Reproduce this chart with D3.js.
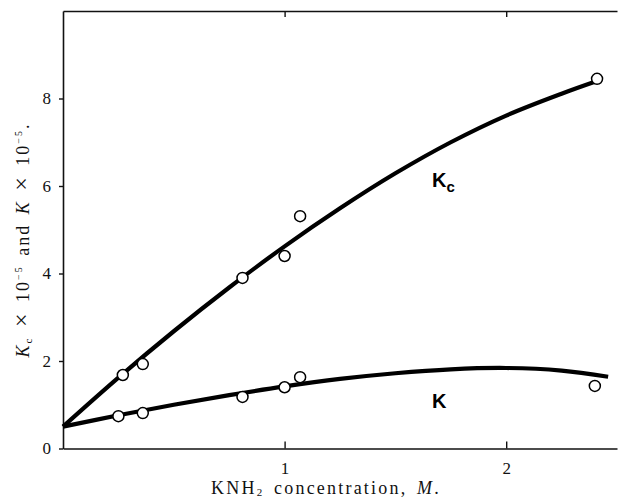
<!DOCTYPE html>
<html>
<head>
<meta charset="utf-8">
<script src="https://cdn.jsdelivr.net/npm/d3@7"></script>
<style>
  body { margin: 0; background: #fff; }
  svg { display: block; }
  .tick text { font-family: "Liberation Serif", "DejaVu Serif", serif; font-size: 17px; fill: #111; }
</style>
</head>
<body>
<div id="chart"></div>
<script>
// measured points (KNH2 concentration, M)
const kcX = [0.27, 0.36, 0.81, 1.0, 1.07, 2.41];
const kcY = [1.68, 1.93, 3.9, 4.4, 5.31, 8.45];
const kX = [0.25, 0.36, 0.81, 1.0, 1.07, 2.40];
const kY = [0.74, 0.81, 1.18, 1.4, 1.63, 1.43];

// smooth fitted curves
const kcCurveX = [0, 0.25, 0.5, 0.75, 1.0, 1.25, 1.5, 1.75, 2.0, 2.25, 2.41];
const kcCurveY = [0.5, 1.62, 2.68, 3.68, 4.62, 5.49, 6.29, 7.0, 7.61, 8.11, 8.4];
const kCurveX = [0, 0.25, 0.5, 0.75, 1.0, 1.25, 1.5, 1.75, 2.0, 2.25, 2.46];
const kCurveY = [0.5, 0.76, 1.0, 1.22, 1.42, 1.59, 1.72, 1.81, 1.84, 1.78, 1.64];

const xTicks = [1, 2];
const yTicks = [0, 2, 4, 6, 8];

const width = 618;
const height = 498;

const svg = d3.select('#chart').append('svg')
  .attr('width', width)
  .attr('height', height);

const x = d3.scaleLinear().domain([0, 2.5]).range([63, 617]);
const y = d3.scaleLinear().domain([0, 10]).range([448.5, 11]);

// axes
const gBottom = svg.append('g')
  .attr('transform', `translate(0,${y(0)})`)
  .call(d3.axisBottom(x).tickValues(xTicks).tickSize(-7).tickSizeOuter(0).tickPadding(13).tickFormat(d3.format('d')));

const gTop = svg.append('g')
  .attr('transform', `translate(0,${y(10)})`)
  .call(d3.axisTop(x).tickValues(xTicks).tickSize(-6).tickSizeOuter(0).tickFormat(''));

const gLeft = svg.append('g')
  .attr('transform', `translate(${x(0)},0)`)
  .call(d3.axisLeft(y).tickValues(yTicks).tickSize(4).tickSizeOuter(0).tickPadding(8).tickFormat(d3.format('d')));

[gBottom, gTop, gLeft].forEach(g => {
  g.select('.domain').attr('stroke', '#111').attr('stroke-width', 1.6);
  g.selectAll('.tick line').attr('stroke', '#111').attr('stroke-width', 1.4);
});

// curves
const line = d3.line()
  .x(d => x(d[0]))
  .y(d => y(d[1]))
  .curve(d3.curveCatmullRom);

svg.append('path')
  .datum(d3.zip(kcCurveX, kcCurveY))
  .attr('d', line)
  .attr('fill', 'none')
  .attr('stroke', '#000')
  .attr('stroke-width', 4.2)
  .attr('stroke-linecap', 'butt');

svg.append('path')
  .datum(d3.zip(kCurveX, kCurveY))
  .attr('d', line)
  .attr('fill', 'none')
  .attr('stroke', '#000')
  .attr('stroke-width', 4.2)
  .attr('stroke-linecap', 'butt');

// data points
const pts = d3.zip(kcX, kcY).concat(d3.zip(kX, kY));
svg.selectAll('.pt')
  .data(pts)
  .enter().append('circle')
    .attr('class', 'pt')
    .attr('cx', d => x(d[0]))
    .attr('cy', d => y(d[1]))
    .attr('r', 5.5)
    .attr('fill', '#fff')
    .attr('stroke', '#000')
    .attr('stroke-width', 1.5);

// curve labels
const kcLabel = svg.append('text')
  .attr('x', x(1.665))
  .attr('y', y(5.98))
  .attr('font-family', '"Liberation Sans", Arial, sans-serif')
  .attr('font-weight', 'bold')
  .attr('font-size', 20)
  .text('K');
kcLabel.append('tspan')
  .attr('font-size', 15)
  .attr('dy', 5)
  .text('c');

svg.append('text')
  .attr('x', x(1.665))
  .attr('y', y(0.93))
  .attr('font-family', '"Liberation Sans", Arial, sans-serif')
  .attr('font-weight', 'bold')
  .attr('font-size', 20)
  .text('K');

// axis titles
const xTitle = svg.append('text')
  .attr('x', 326)
  .attr('y', 494)
  .attr('text-anchor', 'middle')
  .attr('font-family', '"Liberation Serif", "DejaVu Serif", serif')
  .attr('font-size', 18)
  .attr('letter-spacing', 2.2)
  .attr('word-spacing', 3)
  .attr('fill', '#111');
xTitle.append('tspan').text('KNH');
xTitle.append('tspan').attr('font-size', 11).attr('dy', 2).text('2');
xTitle.append('tspan').attr('dy', -2).text(' concentration, ');
xTitle.append('tspan').attr('font-style', 'italic').text('M');
xTitle.append('tspan').text('.');

const yTitle = svg.append('text')
  .attr('transform', 'translate(29,240) rotate(-90)')
  .attr('text-anchor', 'middle')
  .attr('font-family', '"Liberation Serif", "DejaVu Serif", serif')
  .attr('font-size', 18)
  .attr('letter-spacing', 2)
  .attr('word-spacing', 3)
  .attr('fill', '#111');
yTitle.append('tspan').attr('font-style', 'italic').text('K');
yTitle.append('tspan').attr('font-size', 11).attr('dy', 3).text('c');
yTitle.append('tspan').attr('dy', -3).text(' ');
yTitle.append('tspan').attr('font-size', 24).text('×');
yTitle.append('tspan').text(' 10');
yTitle.append('tspan').attr('font-size', 10).attr('dy', -7).text('−5');
yTitle.append('tspan').attr('dy', 7).text(' and ');
yTitle.append('tspan').attr('font-style', 'italic').text('K');
yTitle.append('tspan').text(' ');
yTitle.append('tspan').attr('font-size', 24).text('×');
yTitle.append('tspan').text(' 10');
yTitle.append('tspan').attr('font-size', 10).attr('dy', -7).text('−5');
yTitle.append('tspan').attr('dy', 7).text('.');
</script>
</body>
</html>
